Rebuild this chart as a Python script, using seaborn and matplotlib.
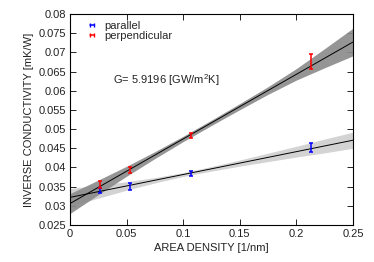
import matplotlib
matplotlib.use("Agg")
from matplotlib import pyplot as plt
from matplotlib.lines import Line2D
from matplotlib.ticker import FuncFormatter
import numpy as np
import seaborn as sns

# measured points
density = [0.0267, 0.0533, 0.1067, 0.2133]
perp_val = [0.0355, 0.0394, 0.0484, 0.0676]
perp_err = [0.0009, 0.0008, 0.0007, 0.0019]
par_val = [0.0340, 0.0350, 0.0384, 0.0452]
par_err = [0.0006, 0.0010, 0.0006, 0.0012]

# linear fits (intercept, slope) and confidence band half widths
perp_fit = (0.0306, 0.1684)
par_fit = (0.0322, 0.0596)
band_x = [0.0, 0.025, 0.05, 0.075, 0.1, 0.125, 0.15, 0.175, 0.2, 0.225, 0.25]
perp_band = [0.0026, 0.0019, 0.0013, 0.0009, 0.0007, 0.0007, 0.0008, 0.0010, 0.0015, 0.0025, 0.0036]
par_band = [0.0023, 0.0017, 0.0011, 0.0007, 0.0005, 0.0006, 0.0008, 0.0011, 0.0014, 0.0018, 0.0021]

label_text = "G= 5.9196 [GW/m$^2$K]"

sns.set_style("ticks")
plt.rcParams['font.family'] = ['Liberation Sans', 'DejaVu Sans']
plt.rcParams['mathtext.fontset'] = 'custom'
plt.rcParams['mathtext.rm'] = 'Liberation Sans'

fs = 8
fig, ax = plt.subplots(figsize=(3.74, 2.62), dpi=100)
fig.subplots_adjust(left=70/374, right=353/374, top=1-14/262, bottom=1-225/262)

bx = np.array(band_x)
# bands
pc = perp_fit[0] + perp_fit[1] * bx
ac = par_fit[0] + par_fit[1] * bx
ax.fill_between(bx, ac - np.array(par_band), ac + np.array(par_band),
                color='#d3d3d3', lw=0, zorder=1)
ax.fill_between(bx, pc - np.array(perp_band), pc + np.array(perp_band),
                color='#8a8a8a', lw=0, zorder=2, alpha=0.9)

# fit lines
sns.lineplot(x=bx, y=pc, color='black', lw=0.7, ax=ax, zorder=3)
sns.lineplot(x=bx, y=ac, color='black', lw=0.7, ax=ax, zorder=3)

ax.errorbar(density, par_val, yerr=par_err, fmt='none', ecolor='#0000ff',
            elinewidth=1.1, capsize=1.5, capthick=1.1, zorder=4)
ax.errorbar(density, perp_val, yerr=perp_err, fmt='none', ecolor='#ff0000',
            elinewidth=1.1, capsize=1.5, capthick=1.1, zorder=4)

ax.set_xlim(0, 0.25)
ax.set_ylim(0.025, 0.08)
ax.set_xticks([0, 0.05, 0.1, 0.15, 0.2, 0.25])
ax.set_yticks(np.arange(0.025, 0.0801, 0.005))
fmt = FuncFormatter(lambda v, p: "%g" % round(v, 4))
ax.xaxis.set_major_formatter(fmt)
ax.yaxis.set_major_formatter(fmt)
ax.tick_params(direction='in', length=4, width=0.6, labelsize=fs, pad=3,
               top=True, right=True, color='black', labelcolor='#222222')
for s in ax.spines.values():
    s.set_linewidth(0.8)
    s.set_color('black')

ax.set_xlabel("AREA DENSITY [1/nm]", fontsize=fs, color='#222222', labelpad=3)
ax.set_ylabel("INVERSE CONDUCTIVITY [mK/W]", fontsize=fs, color='#222222', labelpad=3)

ax.text(0.038, 0.0628, label_text, fontsize=fs, color='#222222', va='center')

handles = [Line2D([], [], color='#0000ff', lw=1.1, marker='|', ms=3, mew=1.0),
           Line2D([], [], color='#ff0000', lw=1.1, marker='|', ms=3, mew=1.0)]
ax.legend(handles, ["parallel", "perpendicular"], loc='upper left', numpoints=2,
          frameon=False, fontsize=fs, handlelength=1.0, handletextpad=0.6,
          labelspacing=0.05, borderaxespad=0.2, bbox_to_anchor=(0.035, 1.0))

plt.savefig("out.png", dpi=100)
